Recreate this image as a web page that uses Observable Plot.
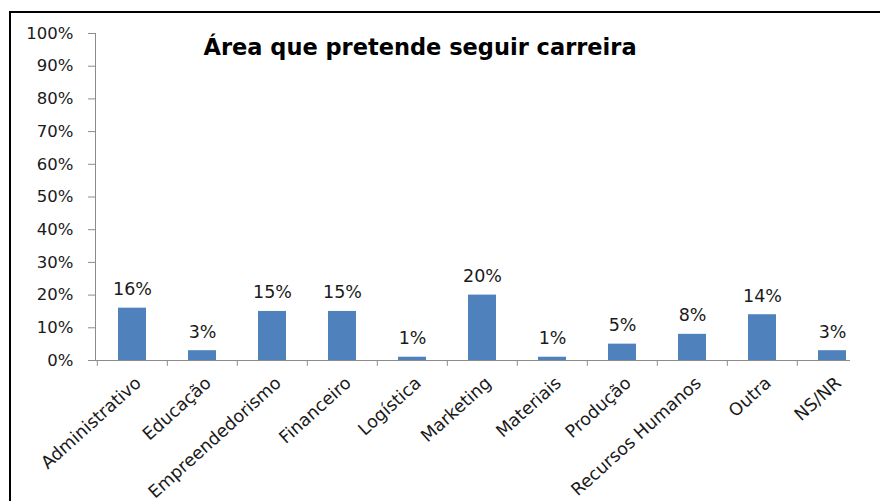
<!DOCTYPE html>
<html>
<head>
<meta charset="utf-8">
<script src="https://cdn.jsdelivr.net/npm/d3@7"></script>
<script src="https://cdn.jsdelivr.net/npm/@observablehq/plot@0.6"></script>
<style>
  html, body { margin: 0; padding: 0; background: #fff; overflow: hidden; }
  #wrap { position: relative; width: 880px; height: 501px; }
  #border { position: absolute; left: 9px; top: 11px; width: 900px; height: 600px;
            border-left: 2.5px solid #000; border-top: 2.5px solid #000; pointer-events: none; }
</style>
</head>
<body>
<div id="wrap"><div id="border"></div></div>
<script>
const title = "Área que pretende seguir carreira";
const categories = ["Administrativo", "Educação", "Empreendedorismo", "Financeiro", "Logística",
  "Marketing", "Materiais", "Produção", "Recursos Humanos", "Outra", "NS/NR"];
const values = [16, 3, 15, 15, 1, 20, 1, 5, 8, 14, 3];
const yTicks = [0, 10, 20, 30, 40, 50, 60, 70, 80, 90, 100];

const data = categories.map((c, i) => ({cat: c, v: values[i]}));
const font = "DejaVu Sans, sans-serif";
const axisColor = "#8c8c8c";
const textColor = "#1a1a1a";
const marginLeft = 95, marginRight = 11;
const step = (880 - marginLeft - marginRight) / categories.length;

const chart = Plot.plot({
  width: 880,
  height: 501,
  marginLeft,
  marginRight,
  marginTop: 33,
  marginBottom: 141,
  style: {fontFamily: font, fontSize: "16px", color: textColor, background: "transparent", overflow: "visible"},
  x: {domain: categories, paddingInner: 0.6, paddingOuter: 0.3, axis: null},
  y: {domain: [0, 100], ticks: yTicks, tickFormat: d => d + "%", label: null,
      tickSize: 7, tickPadding: 15},
  marks: [
    Plot.axisY({ticks: yTicks, tickFormat: d => d + "%", tickSize: 7, tickPadding: 15,
      label: null, stroke: axisColor, fill: textColor, fontSize: 16.5}),
    Plot.barY(data, {x: "cat", y: "v", fill: "#4F81BD"}),
    Plot.frame({anchor: "left", stroke: axisColor}),
    Plot.ruleY([0], {stroke: axisColor, insetRight: 19}),
    Plot.ruleX(categories, {x: d => d, dx: -step / 2, y1: 0, y2: -1.8, stroke: axisColor}),
    Plot.text(data, {x: "cat", y: "v", text: d => d.v + "%", dy: -13, lineAnchor: "bottom",
      fontSize: 17.5, fill: textColor}),
    Plot.text(data, {x: "cat", y: 0, text: "cat", rotate: -42, textAnchor: "end",
      dx: 6, dy: 20, fontSize: 17.5, fill: textColor}),
    Plot.text([title], {frameAnchor: "top-left", dx: 108, dy: 21, lineAnchor: "bottom",
      textAnchor: "start", fontWeight: "bold", fontSize: 22.5, fill: "#000"})
  ]
});
document.getElementById("wrap").prepend(chart);
</script>
</body>
</html>
